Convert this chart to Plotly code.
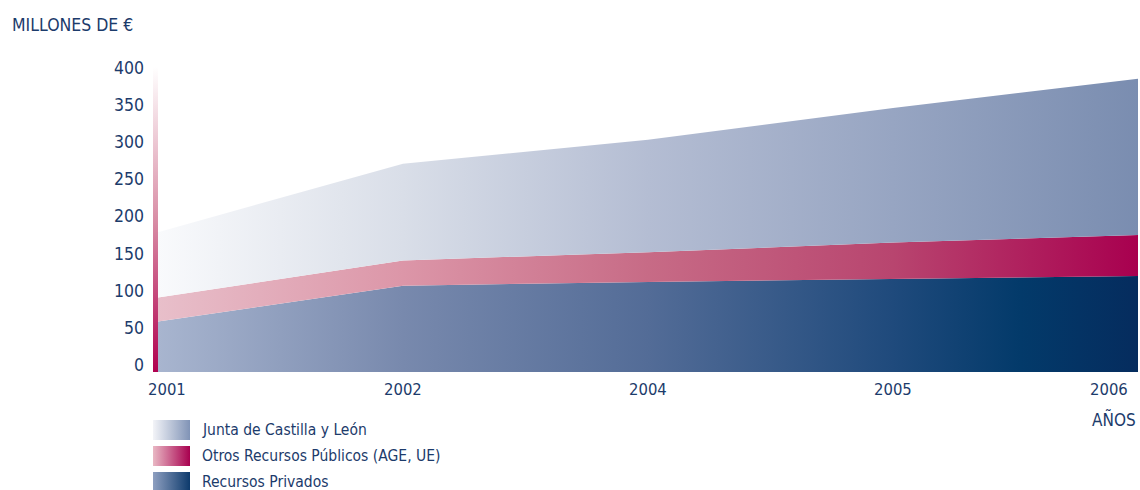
import plotly.graph_objects as go

# ---------------- data ----------------
years = ["2001", "2002", "2004", "2005", "2006"]
privados = [68, 116, 121, 125, 129]          # Recursos Privados
otros = [32, 34, 40, 49, 55]                 # Otros Recursos Públicos (AGE, UE)
junta = [88, 130, 151, 181, 210]             # Junta de Castilla y León
y_ticks = [0, 50, 100, 150, 200, 250, 300, 350, 400]

series_names = ["Recursos Privados", "Otros Recursos Públicos (AGE, UE)", "Junta de Castilla y León"]
series_values = [privados, otros, junta]
area_scales = [
    [[0, "#a8b5cf"], [0.25, "#7889ad"], [0.5, "#536c97"], [0.75, "#1f4a7c"], [0.88, "#033a6a"], [1, "#052c5e"]],
    [[0, "#e8bfca"], [0.25, "#dc96a8"], [0.5, "#c76b86"], [0.75, "#b8456f"], [1, "#a8004f"]],
    [[0, "#f9fafc"], [0.25, "#d9dee8"], [0.5, "#b4bdd3"], [0.75, "#97a5c2"], [1, "#7a8db0"]],
]
legend_order = ["Junta de Castilla y León", "Otros Recursos Públicos (AGE, UE)", "Recursos Privados"]
legend_scales = {
    "Junta de Castilla y León": [[0, "#f3f4f8"], [1, "#8093b6"]],
    "Otros Recursos Públicos (AGE, UE)": [[0, "#e9b8c4"], [1, "#a8004f"]],
    "Recursos Privados": [[0, "#8e9fc0"], [1, "#0d3a6c"]],
}

TXT = "#1c3b6b"
FONT = "DejaVu Sans Condensed, Liberation Sans Narrow, Roboto, sans-serif"

W, H = 1140, 490
ML, MR, MT, MB = 153, 2, 60, 0
PW, PH = W - ML - MR, H - MT - MB
plot_bottom_px = 372
x_dom0 = 5 / PW

fig = go.Figure()

for name, vals, cs in zip(series_names, series_values, area_scales):
    fig.add_trace(go.Scatter(
        x=years, y=vals, name=name, mode="lines", stackgroup="one",
        line=dict(width=0, color=cs[-1][1]),
        fillgradient=dict(type="horizontal", colorscale=cs),
        showlegend=False, hoverinfo="x+y+name",
    ))

# decorative vertical gradient bar standing in for the y axis line
fig.add_trace(go.Scatter(
    x=[0, 1, 1, 0, 0], y=[0, 0, 0.978, 0.978, 0], xaxis="x3", yaxis="y3",
    mode="lines", fill="toself", line=dict(width=0),
    fillgradient=dict(type="vertical", colorscale=[[0, "#b0004f"], [0.5, "#d98ea6"], [1, "#ffffff"]]),
    showlegend=False, hoverinfo="skip",
))

# custom legend with gradient swatches
annotations = []
for i, name in enumerate(legend_order):
    fig.add_trace(go.Scatter(
        x=[0, 1, 1, 0, 0], y=[i, i, i + 0.77, i + 0.77, i], xaxis="x2", yaxis="y2",
        mode="lines", fill="toself", line=dict(width=0),
        fillgradient=dict(type="horizontal", colorscale=legend_scales[name]),
        showlegend=False, hoverinfo="skip",
    ))
    annotations.append(dict(
        text=name, xref="paper", yref="y2", x=(200 - ML) / PW, y=i + 0.385,
        xanchor="left", yanchor="middle", showarrow=False,
        font=dict(family=FONT, size=15.5, color=TXT),
    ))

y_dom0 = (H - plot_bottom_px) / PH
n = len(years)
for i, yr in enumerate(years):
    if i == 0:
        xa, xs = "left", -12
    elif i == n - 1:
        xa, xs = "right", -8
    else:
        xa, xs = "center", 0
    annotations.append(dict(
        text=yr, xref="paper", yref="paper",
        x=x_dom0 + i / (n - 1) * (1 - x_dom0), y=y_dom0,
        yanchor="top", xanchor=xa, xshift=xs, yshift=-6, showarrow=False,
        font=dict(family=FONT, size=16.5, color=TXT),
    ))

annotations.append(dict(
    text="MILLONES DE €", xref="paper", yref="paper",
    x=(10 - ML) / PW, y=(H - 25 - MB) / PH, xanchor="left", yanchor="middle",
    showarrow=False, font=dict(family=FONT, size=17.5, color=TXT),
))
annotations.append(dict(
    text="AÑOS", xref="paper", yref="paper",
    x=1, y=(H - 420 - MB) / PH, xanchor="right", yanchor="middle",
    showarrow=False, font=dict(family=FONT, size=17, color=TXT),
))

px_per_unit = 0.744
y_top = (plot_bottom_px - MT) / px_per_unit

fig.update_layout(
    template="none",
    width=W, height=H,
    margin=dict(l=ML, r=MR, t=MT, b=MB, pad=0, autoexpand=False),
    paper_bgcolor="white", plot_bgcolor="rgba(0,0,0,0)",
    showlegend=False,
    font=dict(family=FONT, color=TXT),
    xaxis=dict(type="category", domain=[x_dom0, 1], range=[0, n - 1], automargin=False,
               showgrid=False, zeroline=False, showline=False, showticklabels=False,
               ticks="", fixedrange=True),
    yaxis=dict(domain=[y_dom0, 1], range=[0, y_top], tickvals=y_ticks, automargin=False,
               showgrid=False, zeroline=False, showline=False, ticks="",
               ticklabelstandoff=13, ticklabelshift=-7,
               tickfont=dict(family=FONT, size=17.5, color=TXT), fixedrange=True),
    xaxis3=dict(domain=[0, x_dom0], range=[0, 1], visible=False, anchor="y3", automargin=False),
    yaxis3=dict(domain=[y_dom0, 1], range=[0, 1], visible=False, anchor="x3", automargin=False),
    xaxis2=dict(domain=[0, 37 / PW], range=[0, 1], visible=False, anchor="y2", automargin=False),
    yaxis2=dict(domain=[0, (H - 420) / PH], range=[(H - 420) / 26, 0], visible=False,
                anchor="x2", automargin=False),
    annotations=annotations,
)

post = """
var s='margin:0;padding:0;overflow:hidden;';
document.documentElement.style.cssText=s;
document.body.style.cssText=s;
"""

fig.write_html("out.html", config={"displayModeBar": False}, post_script=post)
